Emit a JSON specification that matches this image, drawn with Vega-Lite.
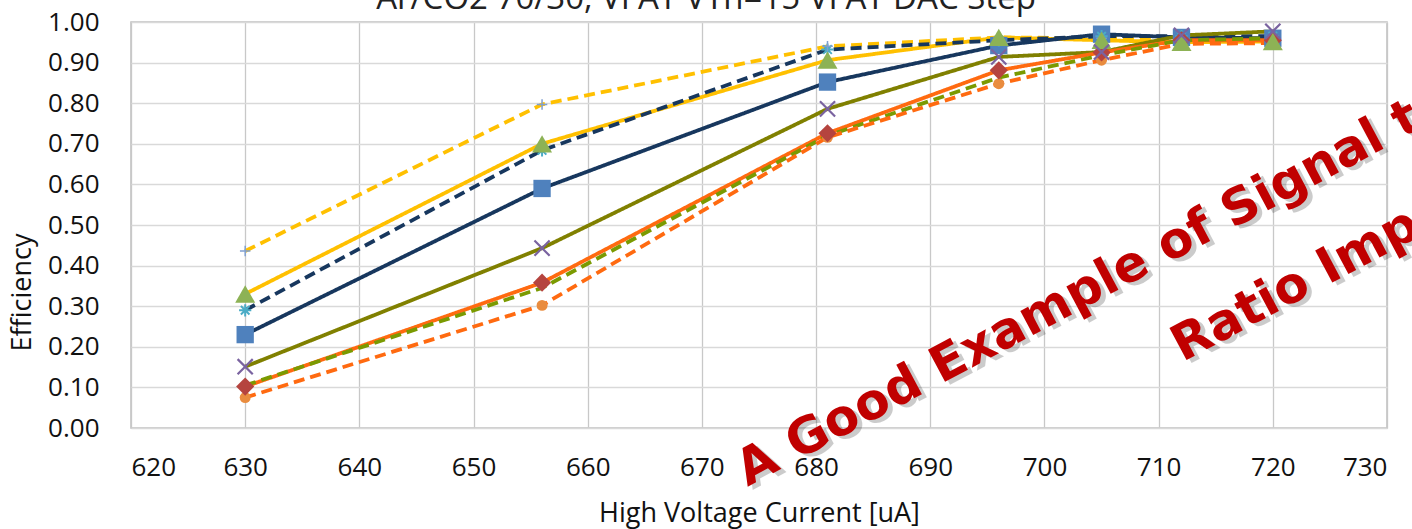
{
  "$schema": "https://vega.github.io/schema/vega-lite/v6.json",
  "width": 1256,
  "height": 406,
  "autosize": {"type": "none"},
  "padding": {"left": 131, "top": 22, "right": 25, "bottom": 101},
  "background": "white",
  "config": {
    "font": "Open Sans",
    "view": {"stroke": "#BFBFBF", "strokeWidth": 1.5},
    "axis": {
      "gridColor": "#D9D9D9",
      "gridWidth": 1.3,
      "domain": false,
      "ticks": false,
      "labelFont": "Open Sans",
      "labelFontSize": 26,
      "labelColor": "#111111",
      "titleFont": "Open Sans",
      "titleFontWeight": "normal",
      "titleFontSize": 27,
      "titleColor": "#111111"
    }
  },
  "title": {
    "text": "Ar/CO2 70/30, VFAT VTh=15 VFAT DAC Step",
    "fontSize": 33,
    "fontWeight": "normal",
    "font": "Open Sans",
    "color": "#222222",
    "anchor": "middle",
    "dx": -53,
    "baseline": "alphabetic",
    "offset": -48
  },
  "datasets": {
    "series": [
      {"series": "S1", "current": 630, "eff": 0.436},
      {"series": "S1", "current": 656, "eff": 0.797},
      {"series": "S1", "current": 681, "eff": 0.94},
      {"series": "S1", "current": 696, "eff": 0.962},
      {"series": "S1", "current": 705, "eff": 0.96},
      {"series": "S1", "current": 712, "eff": 0.96},
      {"series": "S1", "current": 720, "eff": 0.958},
      {"series": "S2", "current": 630, "eff": 0.33},
      {"series": "S2", "current": 656, "eff": 0.7},
      {"series": "S2", "current": 681, "eff": 0.906},
      {"series": "S2", "current": 696, "eff": 0.962},
      {"series": "S2", "current": 705, "eff": 0.955},
      {"series": "S2", "current": 712, "eff": 0.95},
      {"series": "S2", "current": 720, "eff": 0.952},
      {"series": "S3", "current": 630, "eff": 0.29},
      {"series": "S3", "current": 656, "eff": 0.684},
      {"series": "S3", "current": 681, "eff": 0.932},
      {"series": "S3", "current": 696, "eff": 0.955},
      {"series": "S3", "current": 705, "eff": 0.965},
      {"series": "S3", "current": 712, "eff": 0.965},
      {"series": "S3", "current": 720, "eff": 0.965},
      {"series": "S4", "current": 630, "eff": 0.23},
      {"series": "S4", "current": 656, "eff": 0.59},
      {"series": "S4", "current": 681, "eff": 0.852},
      {"series": "S4", "current": 696, "eff": 0.942},
      {"series": "S4", "current": 705, "eff": 0.97},
      {"series": "S4", "current": 712, "eff": 0.962},
      {"series": "S4", "current": 720, "eff": 0.96},
      {"series": "S5", "current": 630, "eff": 0.151},
      {"series": "S5", "current": 656, "eff": 0.443},
      {"series": "S5", "current": 681, "eff": 0.786},
      {"series": "S5", "current": 696, "eff": 0.914},
      {"series": "S5", "current": 705, "eff": 0.926},
      {"series": "S5", "current": 712, "eff": 0.967},
      {"series": "S5", "current": 720, "eff": 0.977},
      {"series": "S6", "current": 630, "eff": 0.102},
      {"series": "S6", "current": 656, "eff": 0.358},
      {"series": "S6", "current": 681, "eff": 0.726},
      {"series": "S6", "current": 696, "eff": 0.881},
      {"series": "S6", "current": 705, "eff": 0.925},
      {"series": "S6", "current": 712, "eff": 0.955},
      {"series": "S6", "current": 720, "eff": 0.955},
      {"series": "S7", "current": 630, "eff": 0.105},
      {"series": "S7", "current": 656, "eff": 0.345},
      {"series": "S7", "current": 681, "eff": 0.72},
      {"series": "S7", "current": 696, "eff": 0.863},
      {"series": "S7", "current": 705, "eff": 0.918},
      {"series": "S7", "current": 712, "eff": 0.955},
      {"series": "S7", "current": 720, "eff": 0.96},
      {"series": "S8", "current": 630, "eff": 0.075},
      {"series": "S8", "current": 656, "eff": 0.302},
      {"series": "S8", "current": 681, "eff": 0.716},
      {"series": "S8", "current": 696, "eff": 0.848},
      {"series": "S8", "current": 705, "eff": 0.906},
      {"series": "S8", "current": 712, "eff": 0.946},
      {"series": "S8", "current": 720, "eff": 0.948}
    ],
    "notes": [
      {"current": 674.0, "eff": -0.145, "label": "A Good Example of Signal to Noise"},
      {"current": 712.1, "eff": 0.162, "label": "Ratio Improvement"}
    ]
  },
  "encoding": {
    "x": {
      "field": "current", "type": "quantitative",
      "scale": {"domain": [620, 730], "nice": false, "zero": false},
      "axis": {
        "values": [620, 630, 640, 650, 660, 670, 680, 690, 700, 710, 720, 730],
        "format": "d",
        "labelPadding": 26,
        "gridColor": "#C8C8C8",
        "title": "High Voltage Current [uA]",
        "titlePadding": 20
      }
    },
    "y": {
      "field": "eff", "type": "quantitative",
      "scale": {"domain": [0, 1], "nice": false},
      "axis": {
        "values": [0, 0.1, 0.2, 0.3, 0.4, 0.5, 0.6, 0.7, 0.8, 0.9, 1.0],
        "format": ".2f",
        "labelPadding": 32,
        "title": "Efficiency",
        "titleAngle": -90,
        "titleAlign": "center",
        "titleBaseline": "middle",
        "titleX": -109,
        "titleY": 270
      }
    }
  },
  "layer": [
    {
      "data": {"name": "series"},
      "mark": {"type": "line", "strokeWidth": 3.8, "strokeJoin": "round"},
      "encoding": {
        "color": {
          "field": "series", "type": "nominal", "legend": null,
          "scale": {
            "domain": ["S1", "S2", "S3", "S4", "S5", "S6", "S7", "S8"],
            "range": ["#FFC000", "#FFC000", "#17375E", "#17375E", "#808000", "#FF6A10", "#7A9A01", "#FF6A10"]
          }
        },
        "strokeDash": {
          "field": "series", "type": "nominal", "legend": null,
          "scale": {
            "domain": ["S1", "S2", "S3", "S4", "S5", "S6", "S7", "S8"],
            "range": [[11, 6], [1, 0], [11, 6], [1, 0], [1, 0], [1, 0], [11, 6], [11, 6]]
          }
        }
      }
    },
    {
      "data": {"name": "series"},
      "transform": [{"filter": "datum.series === 'S4'"}],
      "mark": {"type": "point", "shape": "square", "filled": true, "size": 300, "color": "#4F81BD", "opacity": 1}
    },
    {
      "data": {"name": "series"},
      "transform": [{"filter": "datum.series === 'S3'"}],
      "mark": {"type": "point", "shape": "M-1,0L1,0M0,-1L0,1M-0.7,-0.7L0.7,0.7M-0.7,0.7L0.7,-0.7", "filled": false, "size": 150, "strokeWidth": 2, "color": "#4BACC6", "opacity": 1}
    },
    {
      "data": {"name": "series"},
      "transform": [{"filter": "datum.series === 'S1'"}],
      "mark": {"type": "point", "shape": "M-1,0L1,0M0,-1L0,1", "filled": false, "size": 110, "strokeWidth": 1.5, "color": "#7F9FD0", "opacity": 1}
    },
    {
      "data": {"name": "series"},
      "transform": [{"filter": "datum.series === 'S8'"}],
      "mark": {"type": "point", "shape": "circle", "filled": true, "size": 120, "color": "#E98C3F", "opacity": 1}
    },
    {
      "data": {"name": "series"},
      "transform": [{"filter": "datum.series === 'S6'"}],
      "mark": {"type": "point", "shape": "diamond", "filled": true, "size": 330, "color": "#B5443F", "opacity": 1}
    },
    {
      "data": {"name": "series"},
      "transform": [{"filter": "datum.series === 'S2'"}],
      "mark": {"type": "point", "shape": "triangle-up", "filled": true, "size": 400, "color": "#8DB255", "opacity": 1}
    },
    {
      "data": {"name": "series"},
      "transform": [{"filter": "datum.series === 'S5'"}],
      "mark": {"type": "point", "shape": "M-1,-1L1,1M-1,1L1,-1", "filled": false, "size": 230, "strokeWidth": 2.2, "color": "#7A63A0", "opacity": 1}
    },
    {
      "data": {"name": "notes"},
      "mark": {"type": "text", "angle": 332, "align": "left", "baseline": "alphabetic", "fontSize": 50, "fontWeight": "bold", "font": "DejaVu Sans", "color": "#000000", "opacity": 0.2, "dx": 3, "dy": 5},
      "encoding": {"text": {"field": "label"}}
    },
    {
      "data": {"name": "notes"},
      "mark": {"type": "text", "angle": 332, "align": "left", "baseline": "alphabetic", "fontSize": 50, "fontWeight": "bold", "font": "DejaVu Sans", "color": "#C00000"},
      "encoding": {"text": {"field": "label"}}
    }
  ]
}
